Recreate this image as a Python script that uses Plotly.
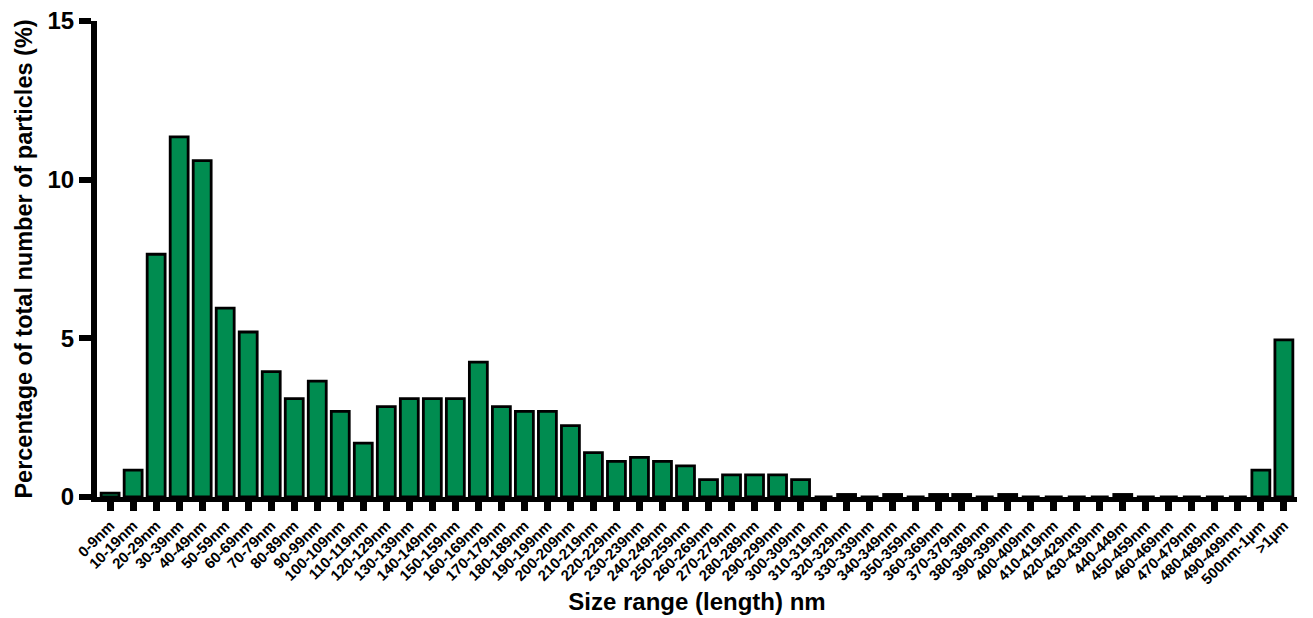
import plotly.graph_objects as go

categories = [f"{i*10}-{i*10+9}nm" for i in range(50)]
categories[44] = "440-449m"
categories += ["500nm-1µm", ">1µm"]

values = [0.12, 0.85, 7.65, 11.35, 10.6, 5.95, 5.2, 3.95, 3.1, 3.65,
          2.7, 1.7, 2.85, 3.1, 3.1, 3.1, 4.25, 2.85, 2.7, 2.7,
          2.25, 1.4, 1.12, 1.25, 1.12, 0.98, 0.55, 0.7, 0.7, 0.7,
          0.55, 0.0, 0.08, 0.0, 0.08, 0.0, 0.08, 0.08, 0.0, 0.08,
          0.0, 0.0, 0.0, 0.0, 0.08, 0.0, 0.0, 0.0, 0.0, 0.0,
          0.85, 4.95]

y_ticks = [0, 5, 10, 15]

font_family = "Liberation Sans, Arial, sans-serif"

fig = go.Figure(go.Bar(
    x=list(range(len(categories))),
    y=values,
    marker=dict(color="rgb(0,140,80)", line=dict(color="black", width=2.8)),
    width=0.78,
))

fig.update_layout(
    width=1313, height=618,
    margin=dict(l=97, r=16, t=21, b=121, autoexpand=False),
    plot_bgcolor="white", paper_bgcolor="white",
    showlegend=False,
    font=dict(family=font_family, color="black", weight="bold"),
)
fig.update_xaxes(
    automargin=False,
    range=[-0.57, len(categories) - 0.43],
    tickmode="array",
    tickvals=list(range(len(categories))),
    ticktext=categories,
    tickangle=-45,
    tickfont=dict(size=15, family=font_family, weight="bold"),
    ticks="outside", ticklen=9, tickwidth=7, tickcolor="black",
    showline=True, linewidth=5, linecolor="black",
    showgrid=False, zeroline=False,
    title=dict(text="Size range (length) nm", font=dict(size=24, family=font_family, weight="bold"), standoff=8),
)
fig.update_yaxes(
    automargin=False,
    range=[0, 15],
    tickvals=y_ticks,
    tickfont=dict(size=24, family=font_family, weight="bold"),
    ticks="outside", ticklen=12, tickwidth=6, tickcolor="black",
    showline=True, linewidth=6, linecolor="black",
    showgrid=False, zeroline=False,
    title=dict(text="Percentage of total number of particles (%)", font=dict(size=23.5, family=font_family, weight="bold"), standoff=10),
)

fig.write_html("out.html", config={"displayModeBar": False},
               post_script="document.body.style.margin='0px';")
